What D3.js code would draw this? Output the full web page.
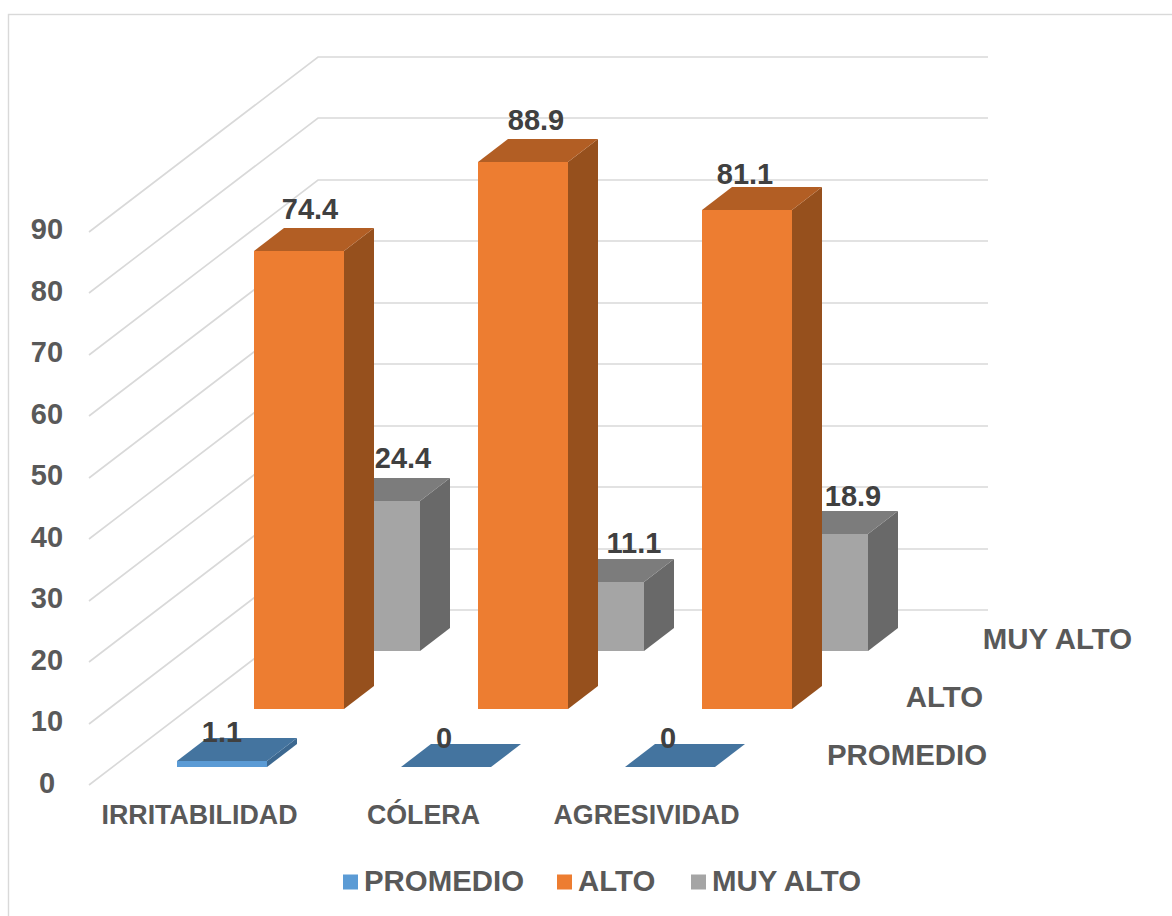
<!DOCTYPE html>
<html><head><meta charset="utf-8">
<script src="https://cdn.jsdelivr.net/npm/d3@7/dist/d3.min.js"></script>
<style>html,body{margin:0;padding:0;background:#fff}svg{display:block}text{font-family:"Liberation Sans",Arial,sans-serif;font-weight:700}</style>
</head><body><script>
const categories = ["IRRITABILIDAD","CÓLERA","AGRESIVIDAD"];
const seriesNames = ["PROMEDIO","ALTO","MUY ALTO"];
const promedio = [1.1,0,0];
const alto = [74.4,88.9,81.1];
const muyAlto = [24.4,11.1,18.9];
const yTicks = [0,10,20,30,40,50,60,70,80,90];

const seriesValues = [promedio,alto,muyAlto];
const front = ["#5B9BD5","#ED7D31","#A5A5A5"];
const topC = ["#44749F","#B25E24","#7C7C7C"];
const side = ["#3C6890","#96501D","#696969"];

const W=1172,H=916;
const svg=d3.select("body").append("svg").attr("width",W).attr("height",H);
svg.append("rect").attr("x",8.5).attr("y",14.5).attr("width",W).attr("height",H).attr("fill","#fff").attr("stroke","#D9D9D9").attr("stroke-width",1.4);

// frame: the front-left floor corner, the back wall width, and the depth vector
const ox=89, oy=785, wallW=670, depthX=229, depthY=-175;
const xBand=d3.scaleBand().domain(categories).range([0,672]);
const y=d3.scaleLinear().domain([0,90]).range([0,553.5]);
const z=d3.scaleBand().domain(seriesNames).range([0,1]);
const barW=90, barDepth=0.131, barShift=-1.7;
const P=(px,val,d)=>[Math.round(ox+px+depthX*d), Math.round(oy-y(val)+depthY*d)];
const poly=pts=>pts.map(p=>p.join(",")).join(" ");

const grid=svg.append("g").attr("fill","none").attr("stroke","#D9D9D9").attr("stroke-width",1.6);
yTicks.forEach(t=>{
  grid.append("polyline").attr("points",poly([P(0,t,0),P(0,t,1),P(wallW,t,1)]));
});

const bars=svg.append("g");
d3.range(seriesNames.length-1,-1,-1).forEach(si=>{
  const name=seriesNames[si];
  categories.forEach((c,ci)=>{
    const v=seriesValues[si][ci];
    const x0=xBand(c)+xBand.bandwidth()/2-barW/2+barShift, x1=x0+barW;
    const d0=z(name)+z.bandwidth()/2-barDepth/2, d1=d0+barDepth;
    const g=bars.append("g");
    if(v>0){
      g.append("polygon").attr("fill",side[si]).attr("points",poly([P(x1,0,d0),P(x1,0,d1),P(x1,v,d1),P(x1,v,d0)]));
      const a=P(x0,v,d0), b=P(x1,0,d0);
      g.append("polygon").attr("fill",front[si]).attr("points",poly([a,[b[0],a[1]],b,[a[0],b[1]]]));
    }
    g.append("polygon").attr("fill",topC[si]).attr("points",poly([P(x0,v,d0),P(x1,v,d0),P(x1,v,d1),P(x0,v,d1)]));
  });
});

// label nudges relative to the bar's back-top centre
const nudgeX=[[-30,-32,-32],[-19,-17,-32],[-2,5,0]];
const nudgeY=[[4,4,4],[-9.5,-9.5,-3],[-10,-6,-5.5]];
const lab=svg.append("g").attr("fill","#404040").attr("font-size",29).attr("text-anchor","middle");
seriesNames.forEach((name,si)=>categories.forEach((c,ci)=>{
  const v=seriesValues[si][ci];
  const x0=xBand(c)+xBand.bandwidth()/2-barW/2+barShift;
  const d1=z(name)+z.bandwidth()/2+barDepth/2;
  const p=P(x0+barW/2,v,d1);
  lab.append("text").attr("x",p[0]+nudgeX[si][ci]).attr("y",p[1]+nudgeY[si][ci]).text(v);
}));

const tickG=svg.append("g").attr("fill","#595959").attr("font-size",29).attr("text-anchor","middle");
yTicks.forEach(t=>{
  tickG.append("text").attr("x",47).attr("y",oy-y(t)+7.5).text(t);
});

const catG=svg.append("g").attr("fill","#595959").attr("font-size",26.8).attr("text-anchor","middle");
const catX=[199.5,423.5,646.5];
categories.forEach((c,i)=>catG.append("text").attr("x",catX[i]).attr("y",824).text(c));

const serG=svg.append("g").attr("fill","#595959").attr("font-size",29.4).attr("text-anchor","end");
const serX=[987,983,1132], serY=[765,707,649];
seriesNames.forEach((s,i)=>serG.append("text").attr("x",serX[i]).attr("y",serY[i]).text(s));

const legG=svg.append("g").attr("font-size",29.4).attr("fill","#595959");
const legX=[343,557,691];
seriesNames.forEach((s,i)=>{
  legG.append("rect").attr("x",legX[i]).attr("y",874.5).attr("width",15).attr("height",15).attr("fill",front[i]);
  legG.append("text").attr("x",legX[i]+21).attr("y",891).text(s);
});
</script></body></html>
